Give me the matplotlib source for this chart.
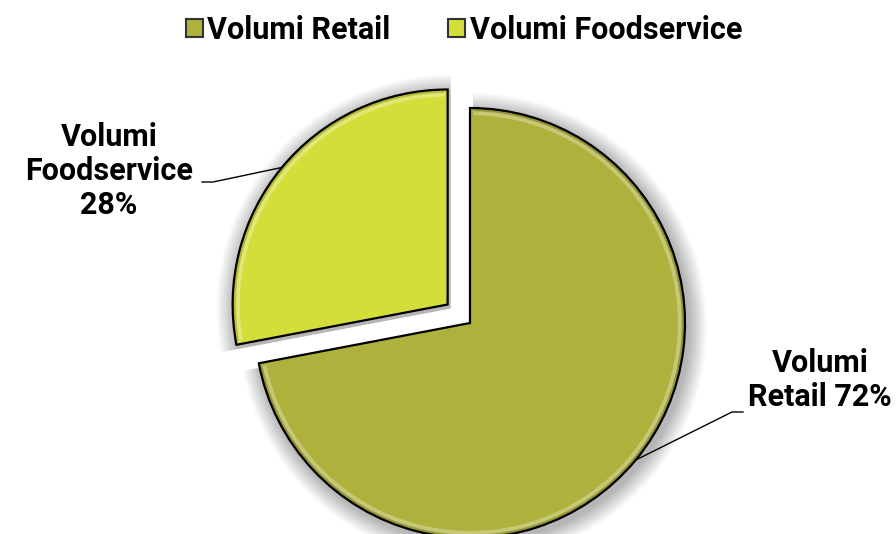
import numpy as np
import matplotlib.pyplot as plt
from matplotlib.patches import Wedge, Patch, Arc
from matplotlib.lines import Line2D

plt.rcParams['font.family'] = ['Roboto', 'DejaVu Sans']

categories = ["Volumi Retail", "Volumi Foodservice"]
values = [72, 28]
labels = ["Volumi\nRetail 72%", "Volumi\nFoodservice\n28%"]
colors = ["#AEB13C", "#D4DE3A"]
explode_frac = [0, 0.135]

W, H = 896, 534
fig = plt.figure(figsize=(W / 100, H / 100), dpi=100)
ax = fig.add_axes([0, 0, 1, 1])

cx, cy, R = 470, H - 323, 215

# pie() takes explode in data units, so scale by the radius
wedges, _ = ax.pie(values, colors=colors, startangle=90, counterclock=False,
                   explode=[e * R for e in explode_frac], center=(cx, cy), radius=R,
                   frame=True, wedgeprops=dict(edgecolor="black", linewidth=1.6))
ax.set_xlim(0, W)
ax.set_ylim(0, H)
ax.set_aspect('equal')
ax.axis('off')

# soft shadow under the wedges + bevel highlight on the rim
for w in wedges:
    c = np.array(w.center)
    for k in range(1, 20):
        sh = Wedge(c + np.array([3, -4]), R + k, w.theta1, w.theta2,
                   facecolor="black", edgecolor="none", alpha=0.016, zorder=0)
        ax.add_patch(sh)
    ax.add_patch(Arc(c, 2 * (R - 5), 2 * (R - 5), theta1=w.theta1 + 1, theta2=w.theta2 - 1,
                     edgecolor="white", linewidth=3, alpha=0.3, zorder=3))
    ax.add_patch(Arc(c, 2 * (R - 2), 2 * (R - 2), theta1=w.theta1 + 1, theta2=w.theta2 - 1,
                     edgecolor="black", linewidth=2, alpha=0.15, zorder=3))

# labels with leader lines
text_pos = [(820, H - 380), (109, H - 171)]
elbows = [(732, H - 412, 743), (213, H - 182, 202)]
for w, lab, tp, el in zip(wedges, labels, text_pos, elbows):
    mid = np.deg2rad((w.theta1 + w.theta2) / 2)
    c = np.array(w.center)
    ex, ey = c[0] + R * np.cos(mid), c[1] + R * np.sin(mid)
    ax.add_line(Line2D([ex, el[0], el[2]], [ey, el[1], el[1]], color="black",
                       linewidth=1, zorder=5))
    ax.text(tp[0], tp[1], lab, ha="center", va="center", fontsize=22,
            fontweight="bold", linespacing=1.15, zorder=6)

handles = [Patch(facecolor=c, edgecolor="#333333", linewidth=1.5) for c in colors]
leg = ax.legend(handles, categories, loc="center", bbox_to_anchor=(464 / W, 1 - 30 / H),
                ncol=2, frameon=False, handlelength=0.55, handleheight=0.55,
                handletextpad=0.15, columnspacing=1.9, prop=dict(weight="bold", size=22))

fig.savefig("out.png", dpi=100)
